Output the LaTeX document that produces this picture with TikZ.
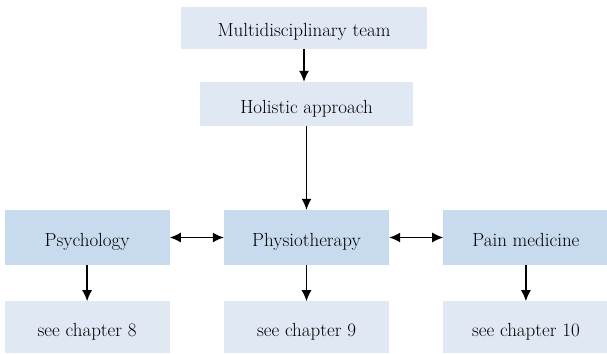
\documentclass[tikz,border=0pt]{standalone}
\usetikzlibrary{positioning,arrows.meta}

\definecolor{box dark}{RGB}{199,218,238}
\definecolor{box light}{RGB}{224,232,244}
\tikzset{
  base/.style={inner sep=0pt, font=\fontsize{19}{22}\selectfont, text=black,
    text height=18pt, text depth=0pt},
  darkbox/.style={base, fill=box dark, minimum width=165pt, minimum height=55pt},
  lightbox/.style={base, fill=box light, minimum width=165pt, minimum height=52pt}
  }
\tikzstyle{link} = [draw, line width=1.3pt, -{Latex[length=11pt,width=10pt]}]
\tikzstyle{both} = [draw, line width=1.3pt, {Latex[length=11pt,width=10pt]}-{Latex[length=11pt,width=10pt]}]

\begin{document}
\begin{tikzpicture}[x=1pt, y=-1pt]

  \useasboundingbox (0, 0) rectangle (607, 353);

  \node[lightbox, minimum width=246pt, minimum height=42pt] (team) at (304, 28) {Multidisciplinary team};
  \node[lightbox, minimum width=213pt, minimum height=44pt] (holistic) at (306.5, 104) {Holistic approach};

  \node[darkbox] (physio) at (306.5, 237.5) {Physiotherapy};
  \node[darkbox, left=54pt of physio] (psych) {Psychology};
  \node[darkbox, right=54pt of physio] (pain) {Pain medicine};

  \foreach \name/\num in {psych/8, physio/9, pain/10} {
    \node[lightbox, below=36pt of \name] (ch\num) {see chapter \num};
    \path[link] (\name) -- (ch\num);
  }

  \path[link] (team) -- (team |- holistic.north);
  \path[link] (holistic) -- (physio);
  \path[both] (psych) -- (physio);
  \path[both] (physio) -- (pain);
\end{tikzpicture}
\end{document}
